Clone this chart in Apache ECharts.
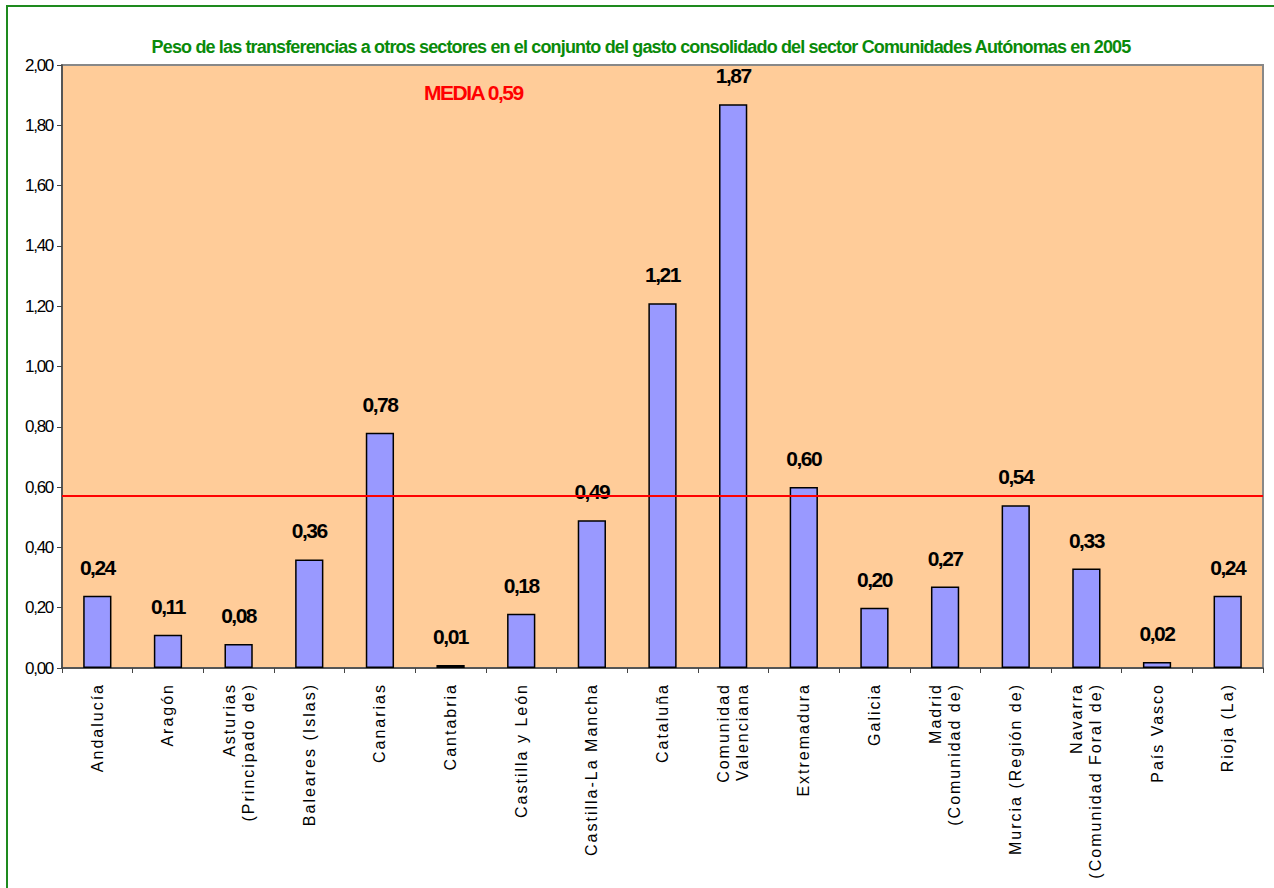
<!DOCTYPE html>
<html>
<head>
<meta charset="utf-8">
<script src="https://cdn.jsdelivr.net/npm/echarts@6/dist/echarts.min.js"></script>
<style>
  html, body { margin: 0; padding: 0; background: #fff; }
  #frame { position: absolute; left: 6px; top: 5px; width: 1280px; height: 900px; border-style: solid; border-color: #1e8a1e; border-width: 2px 0 0 2px; box-sizing: border-box; }
  #eChart { position: absolute; left: 0; top: 0; width: 1274px; height: 888px; }
  /* Excel draws the category names spaced out and the rest in Arial Narrow */
  #eChart text[style*="16px"] { letter-spacing: 2px; }
  #eChart text[style*="18px"] { letter-spacing: -0.85px; }
  #eChart text[style*="17px"] { letter-spacing: -1.3px; }
  #eChart text[style*="21px"] { letter-spacing: -1.5px; }
</style>
</head>
<body>
<div id="frame"></div>
<div id="eChart"></div>
<script>
var comunidades = ['Andalucía', 'Aragón', 'Asturias\n(Principado de)', 'Baleares (Islas)', 'Canarias',
  'Cantabria', 'Castilla y León', 'Castilla-La Mancha', 'Cataluña', 'Comunidad\nValenciana',
  'Extremadura', 'Galicia', 'Madrid\n(Comunidad de)', 'Murcia (Región de)',
  'Navarra\n(Comunidad Foral de)', 'País Vasco', 'Rioja (La)'];
var peso = [0.24, 0.11, 0.08, 0.36, 0.78, 0.01, 0.18, 0.49, 1.21, 1.87, 0.60, 0.20, 0.27, 0.54, 0.33, 0.02, 0.24];
var media = 0.575;
var mediaTexto = 'MEDIA 0,59';
var titulo = 'Peso de las transferencias a otros sectores en el conjunto del gasto consolidado del sector Comunidades Autónomas en 2005';

var sans = '"Liberation Sans", Arial, sans-serif';

function coma(v) {
  return v.toFixed(2).replace('.', ',');
}

var myChart = echarts.init(document.getElementById('eChart'), null, { renderer: 'svg' });
var option = {
  backgroundColor: 'transparent',
  animation: false,
  title: {
    text: titulo,
    left: 636,
    textAlign: 'center',
    top: 33,
    textStyle: { color: '#0a8a0a', fontFamily: sans, fontWeight: 'bold', fontSize: 18 }
  },
  graphic: [{
    type: 'text',
    left: 424,
    top: 82,
    style: { text: mediaTexto, fill: '#ff0000', font: 'bold 21px ' + sans }
  }],
  grid: { left: 62, right: 11, top: 65, bottom: 220, show: true, backgroundColor: '#ffcc99', borderColor: '#888', borderWidth: 2 },
  xAxis: {
    type: 'category',
    data: comunidades,
    axisLine: { lineStyle: { color: '#444', width: 1.5 } },
    axisTick: { show: true, length: 5, lineStyle: { color: '#444' } },
    axisLabel: { rotate: 90, interval: 0, margin: 15, color: '#000', fontFamily: sans, fontSize: 16, lineHeight: 19 }
  },
  yAxis: {
    type: 'value',
    min: 0, max: 2, interval: 0.2,
    splitLine: { show: false },
    axisLine: { show: true, lineStyle: { color: '#444', width: 1.5 } },
    axisTick: { show: true, length: 5, lineStyle: { color: '#444' } },
    axisLabel: { color: '#000', fontFamily: sans, fontSize: 17, margin: 9, formatter: function (v) { return coma(v); } }
  },
  series: [{
    type: 'bar',
    data: peso,
    barWidth: '40%',
    itemStyle: { color: '#9999ff', borderColor: '#000', borderWidth: 1.5 },
    label: {
      show: true, position: 'top', distance: 18, color: '#000',
      fontFamily: sans, fontWeight: 'bold', fontSize: 21,
      formatter: function (p) { return coma(p.value); }
    },
    markLine: {
      symbol: 'none', silent: true,
      label: { show: false },
      lineStyle: { color: '#ff0000', width: 2, type: 'solid' },
      data: [{ yAxis: media }]
    }
  }]
};
myChart.setOption(option);
</script>
</body>
</html>
